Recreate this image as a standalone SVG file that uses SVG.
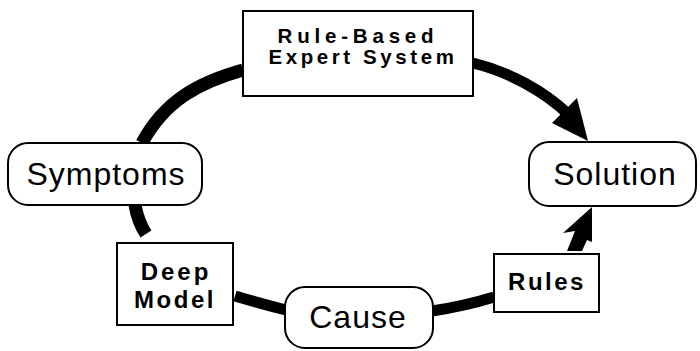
<svg xmlns="http://www.w3.org/2000/svg" width="700" height="351" viewBox="0 0 700 351">
  <style>
    .box { fill: #ffffff; stroke: #000000; stroke-width: 2; }
    .label { font-family: "Liberation Sans", Arial, Helvetica, sans-serif; font-size: 32px; fill: #000000; text-anchor: middle; letter-spacing: 1px; }
    .bold { font-family: "Liberation Sans", Arial, Helvetica, sans-serif; font-weight: bold; fill: #000000; text-anchor: middle; }
    .flow { fill: none; stroke: #000000; stroke-linecap: butt; }
    .head { fill: #000000; stroke: none; }
  </style>
  <rect width="700" height="351" fill="#ffffff"/>

  <!-- thick cycle connectors -->
  <g id="connectors">
    <path class="flow" stroke-width="13" d="M142,143 C165,100 200,82 243,70"/>
    <path class="flow" stroke-width="11" d="M473,63 C510,72 545,92 568,114"/>
    <polygon class="head" points="552,123 577,98 588,141"/>
    <path class="flow" stroke-width="13" d="M135,205 Q138,222 146,234"/>
    <path class="flow" stroke-width="11" d="M235,296 Q262,304 286,310"/>
    <path class="flow" stroke-width="11" d="M432,311 Q465,306 494,297"/>
    <polygon class="head" points="592,207 563,233 575,231 567,251 582,251 587,240 592,242"/>
  </g>

  <g id="rule-based">
    <rect class="box" x="243" y="11" width="230" height="85"/>
    <text class="bold" font-size="20.5" letter-spacing="4.8" x="358" y="43">Rule-Based</text>
    <text class="bold" font-size="20.5" letter-spacing="3.6" x="363" y="64">Expert System</text>
  </g>

  <g id="symptoms">
    <rect class="box" x="8" y="143" width="194" height="62" rx="20" ry="20"/>
    <text class="label" x="106" y="185">Symptoms</text>
  </g>

  <g id="solution">
    <rect class="box" x="529" y="142" width="167" height="64" rx="20" ry="20"/>
    <text class="label" x="615" y="185">Solution</text>
  </g>

  <g id="deep-model">
    <rect class="box" x="117" y="243" width="116" height="82"/>
    <text class="bold" font-size="24" letter-spacing="3" x="176" y="280">Deep</text>
    <text class="bold" font-size="24" letter-spacing="2.5" x="175" y="308">Model</text>
  </g>

  <g id="cause">
    <rect class="box" x="285" y="287" width="148" height="61" rx="20" ry="20"/>
    <text class="label" x="358" y="328">Cause</text>
  </g>

  <g id="rules">
    <rect class="box" x="494" y="254" width="105" height="58"/>
    <text class="bold" font-size="24" letter-spacing="2.5" x="547" y="290">Rules</text>
  </g>
</svg>
